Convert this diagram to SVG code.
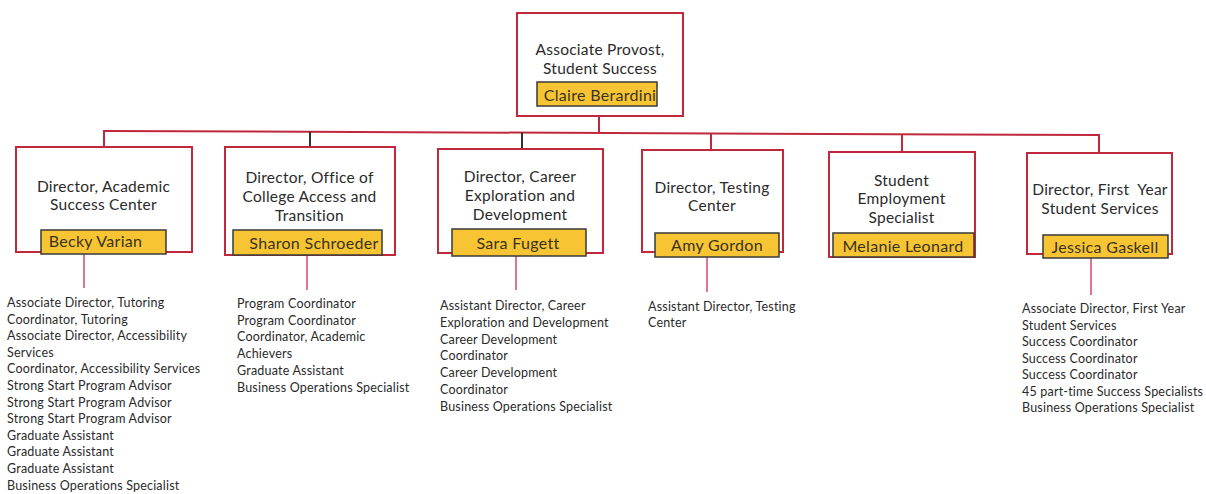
<svg xmlns="http://www.w3.org/2000/svg" width="1206" height="494" viewBox="0 0 1206 494">
<style>
.box{fill:#fff;stroke:#c0283c;stroke-width:2}
.name{fill:#f7c533;stroke:#3a3a3a;stroke-width:1.5}
.t{font-family:Lato,"Liberation Sans",sans-serif;font-size:15.5px;letter-spacing:0.25px;fill:#2a2a2a;text-anchor:middle}
.n{font-family:Lato,"Liberation Sans",sans-serif;font-size:16px;letter-spacing:0.3px;fill:#3a3220;text-anchor:middle}
.l{font-family:Lato,"Liberation Sans",sans-serif;font-size:12.5px;letter-spacing:0.2px;fill:#2a2a2a}
.red{stroke:#c0283c;stroke-width:2;fill:none}
.dark{stroke:#333;stroke-width:2;fill:none}
.pink{stroke:#d2486a;stroke-width:1.5;fill:none}
</style>
<rect width="1206" height="494" fill="#fff"/>
<g id="connectors">
<line class="red" x1="599" y1="116" x2="599" y2="132"/>
<line class="red" x1="103" y1="131" x2="1100" y2="135"/>
<line class="red" x1="104" y1="131" x2="104" y2="147"/>
<line class="dark" x1="310" y1="131.8" x2="310" y2="147"/>
<line class="dark" x1="522" y1="132.6" x2="522" y2="149"/>
<line class="red" x1="711" y1="133.4" x2="711" y2="150"/>
<line class="red" x1="902" y1="134.2" x2="902" y2="152"/>
<line class="red" x1="1099" y1="135" x2="1099" y2="153"/>
<line class="pink" x1="84" y1="254" x2="84" y2="288"/>
<line class="pink" x1="307" y1="255" x2="307" y2="290"/>
<line class="pink" x1="516" y1="256" x2="516" y2="290"/>
<line class="pink" x1="707" y1="257" x2="707" y2="292"/>
<line class="pink" x1="1091" y1="258" x2="1091" y2="295"/>
</g>
<g id="provost">
<rect class="box" x="517" y="13" width="166" height="103"/>
<text class="t" x="600" y="55">Associate Provost,</text>
<text class="t" x="600" y="74">Student Success</text>
<rect class="name" x="537" y="82" width="120" height="24"/>
<text class="n" x="600" y="100.5">Claire Berardini</text>
</g>
<g id="academic-success">
<rect class="box" x="16" y="147" width="176" height="105"/>
<text class="t" x="103.5" y="192">Director, Academic</text>
<text class="t" x="103.5" y="209.5">Success Center</text>
<rect class="name" x="41" y="230" width="125" height="24"/>
<text class="n" x="95.5" y="246.5">Becky Varian</text>
</g>
<g id="college-access">
<rect class="box" x="225" y="147" width="170" height="108"/>
<text class="t" x="309.5" y="183">Director, Office of</text>
<text class="t" x="309.5" y="202">College Access and</text>
<text class="t" x="309.5" y="221">Transition</text>
<rect class="name" x="233" y="230" width="149" height="25"/>
<text class="n" x="314" y="248.5">Sharon Schroeder</text>
</g>
<g id="career">
<rect class="box" x="438" y="149" width="165" height="104"/>
<text class="t" x="520" y="182">Director, Career</text>
<text class="t" x="520" y="201">Exploration and</text>
<text class="t" x="520" y="220">Development</text>
<rect class="name" x="452" y="229" width="134" height="27"/>
<text class="n" x="518" y="248.5">Sara Fugett</text>
</g>
<g id="testing">
<rect class="box" x="642" y="150" width="141" height="102"/>
<text class="t" x="712" y="193">Director, Testing</text>
<text class="t" x="712" y="211">Center</text>
<rect class="name" x="655" y="233" width="124" height="24"/>
<text class="n" x="717" y="250.5">Amy Gordon</text>
</g>
<g id="employment">
<rect class="box" x="829" y="152" width="146" height="105"/>
<text class="t" x="901.5" y="186">Student</text>
<text class="t" x="901.5" y="204">Employment</text>
<text class="t" x="901.5" y="223">Specialist</text>
<rect class="name" x="833" y="233" width="141" height="24"/>
<text class="n" x="903" y="251.5">Melanie Leonard</text>
</g>
<g id="first-year">
<rect class="box" x="1027" y="153" width="145" height="101"/>
<text class="t" x="1100" y="195" style="white-space:pre">Director, First  Year</text>
<text class="t" x="1100" y="214">Student Services</text>
<rect class="name" x="1043" y="235" width="125" height="23"/>
<text class="n" x="1105" y="252.5">Jessica Gaskell</text>
</g>
<g id="list-academic-success">
<text class="l" x="7" y="307">Associate Director, Tutoring</text>
<text class="l" x="7" y="323.6">Coordinator, Tutoring</text>
<text class="l" x="7" y="340.2">Associate Director, Accessibility</text>
<text class="l" x="7" y="356.8">Services</text>
<text class="l" x="7" y="373.4">Coordinator, Accessibility Services</text>
<text class="l" x="7" y="390">Strong Start Program Advisor</text>
<text class="l" x="7" y="406.6">Strong Start Program Advisor</text>
<text class="l" x="7" y="423.2">Strong Start Program Advisor</text>
<text class="l" x="7" y="439.8">Graduate Assistant</text>
<text class="l" x="7" y="456.4">Graduate Assistant</text>
<text class="l" x="7" y="473">Graduate Assistant</text>
<text class="l" x="7" y="489.6">Business Operations Specialist</text>
</g>
<g id="list-college-access">
<text class="l" x="237" y="308">Program Coordinator</text>
<text class="l" x="237" y="324.7">Program Coordinator</text>
<text class="l" x="237" y="341.4">Coordinator, Academic</text>
<text class="l" x="237" y="358.1">Achievers</text>
<text class="l" x="237" y="374.8">Graduate Assistant</text>
<text class="l" x="237" y="391.5">Business Operations Specialist</text>
</g>
<g id="list-career">
<text class="l" x="440" y="310">Assistant Director, Career</text>
<text class="l" x="440" y="326.8">Exploration and Development</text>
<text class="l" x="440" y="343.6">Career Development</text>
<text class="l" x="440" y="360.4">Coordinator</text>
<text class="l" x="440" y="377.2">Career Development</text>
<text class="l" x="440" y="394">Coordinator</text>
<text class="l" x="440" y="410.8">Business Operations Specialist</text>
</g>
<g id="list-testing">
<text class="l" x="648" y="311">Assistant Director, Testing</text>
<text class="l" x="648" y="327">Center</text>
</g>
<g id="list-first-year">
<text class="l" x="1022" y="313">Associate Director, First Year</text>
<text class="l" x="1022" y="329.5">Student Services</text>
<text class="l" x="1022" y="346">Success Coordinator</text>
<text class="l" x="1022" y="362.5">Success Coordinator</text>
<text class="l" x="1022" y="379">Success Coordinator</text>
<text class="l" x="1022" y="395.5">45 part-time Success Specialists</text>
<text class="l" x="1022" y="412">Business Operations Specialist</text>
</g>
</svg>
